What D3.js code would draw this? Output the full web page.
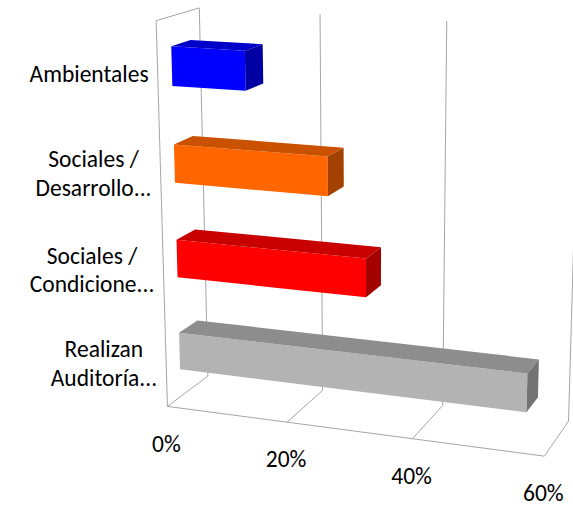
<!DOCTYPE html>
<html>
<head>
<meta charset="utf-8">
<script src="https://cdn.jsdelivr.net/npm/d3@7"></script>
<style>
  html, body { margin: 0; padding: 0; background: #fff; }
  svg { display: block; }
</style>
</head>
<body>
<svg id="chart" width="573" height="507"></svg>
<script>
// ---- data (bottom to top) ----
const categories = ["Realizan\nAuditoría...", "Sociales /\nCondicione...", "Sociales /\nDesarrollo...", "Ambientales"];
const values = [0.56, 0.31, 0.25, 0.12];
const tickValues = [0, 0.2, 0.4, 0.6];
const tickLabels = ["0%", "20%", "40%", "60%"];

// ---- style ----
const barColors = ["#B3B3B3", "#FF0000", "#FF6600", "#0000FF"];
const gridColor = "#A6A6A6";
const fontFamily = "Carlito, Lato, 'Open Sans', sans-serif";
const fontSize = 23.5;

// ---- 3D frame: unit cube (u = value, v = height, w = depth) ----
// image positions of the frame corners used to build the perspective camera
const frameAnchors = [
  [[0, 0, 0], [167.7, 406.7]],
  [[1, 0, 0], [543.5, 456.7]],
  [[0, 1, 0], [154.7, 20.7]],
  [[0, 1, 1], [200.4, 8.0]],
  [[0, 0, 1], [206.5, 376.0]],
  [[1, 0, 1], [568.3, 422.0]],
  [[1, 1, 1], [579.5, 27.0]],
  [[1 / 3, 0, 0], [288.3, 421.7]],
  [[2 / 3, 0, 0], [413.3, 438.3]],
  [[1 / 3, 0, 1], [322.3, 390.0]],
  [[2 / 3, 0, 1], [443.3, 405.0]],
  [[1 / 3, 1, 1], [320.7, 15.0]],
  [[2 / 3, 1, 1], [446.7, 20.7]]
];

// least-squares fit of a 3x4 projective camera
function fitProjection(pairs) {
  const ox = 360, oy = 230, s = 200;
  const n = 11;
  const M = Array.from({ length: n }, () => new Array(n).fill(0));
  const r = new Array(n).fill(0);
  const addRow = (a, b) => {
    for (let i = 0; i < n; i++) {
      r[i] += a[i] * b;
      for (let j = 0; j < n; j++) M[i][j] += a[i] * a[j];
    }
  };
  for (const [[u, v, w], [px, py]] of pairs) {
    const x = (px - ox) / s, y = (py - oy) / s;
    addRow([u, v, w, 1, 0, 0, 0, 0, -x * u, -x * v, -x * w], x);
    addRow([0, 0, 0, 0, u, v, w, 1, -y * u, -y * v, -y * w], y);
  }
  // Gaussian elimination with partial pivoting
  for (let c = 0; c < n; c++) {
    let p = c;
    for (let k = c + 1; k < n; k++) if (Math.abs(M[k][c]) > Math.abs(M[p][c])) p = k;
    [M[c], M[p]] = [M[p], M[c]];
    [r[c], r[p]] = [r[p], r[c]];
    for (let k = c + 1; k < n; k++) {
      const f = M[k][c] / M[c][c];
      for (let j = c; j < n; j++) M[k][j] -= f * M[c][j];
      r[k] -= f * r[c];
    }
  }
  const p = new Array(n).fill(0);
  for (let c = n - 1; c >= 0; c--) {
    let acc = r[c];
    for (let j = c + 1; j < n; j++) acc -= M[c][j] * p[j];
    p[c] = acc / M[c][c];
  }
  return (u, v, w) => {
    const d = p[8] * u + p[9] * v + p[10] * w + 1;
    return [
      ((p[0] * u + p[1] * v + p[2] * w + p[3]) / d) * s + ox,
      ((p[4] * u + p[5] * v + p[6] * w + p[7]) / d) * s + oy
    ];
  };
}
const project = fitProjection(frameAnchors);

// ---- scales ----
const x = d3.scaleLinear().domain([0, 0.6]).range([0, 1]);
const y = d3.scaleBand().domain(categories).range([0, 1]).paddingInner(0.6).paddingOuter(0.3);
const depth = d3.scaleLinear().domain([0, 1]).range([0.32, 0.77]); // bar depth inside the frame

const svg = d3.select("#chart");
svg.append("rect").attr("width", 573).attr("height", 507).attr("fill", "#fff");

const line = d3.line();
const path3d = pts => line(pts.map(p => project(...p)));
const poly = pts => path3d(pts) + "Z";

// ---- walls, floor and gridlines ----
const frame = svg.append("g")
  .attr("fill", "none")
  .attr("stroke", gridColor)
  .attr("stroke-width", 1);

tickValues.forEach(t => {
  const u = x(t);
  frame.append("path").attr("d", path3d([[u, 1, 1], [u, 0, 1], [u, 0, 0]]));
});
frame.append("path").attr("d", path3d([[0, 0, 0], [0, 1, 0], [0, 1, 1]]));
frame.append("path").attr("d", path3d([[0, 0, 0], [1, 0, 0]]));

// ---- 3D bars ----
const shade = (c, k) => {
  const h = d3.rgb(c);
  return d3.rgb(h.r * k, h.g * k, h.b * k).formatHex();
};
const bars = svg.append("g");
categories.slice().reverse().forEach(cat => {
  const i = categories.indexOf(cat);
  const u0 = x(0), u1 = x(values[i]);
  const v0 = y(cat), v1 = v0 + y.bandwidth();
  const w0 = depth(0), w1 = depth(1);
  const g = bars.append("g");
  g.append("path").attr("d", poly([[u0, v0, w0], [u1, v0, w0], [u1, v1, w0], [u0, v1, w0]]))
    .attr("fill", barColors[i]);
  g.append("path").attr("d", poly([[u0, v1, w0], [u1, v1, w0], [u1, v1, w1], [u0, v1, w1]]))
    .attr("fill", shade(barColors[i], 0.79));
  g.append("path").attr("d", poly([[u1, v0, w0], [u1, v1, w0], [u1, v1, w1], [u1, v0, w1]]))
    .attr("fill", shade(barColors[i], 0.64));
});

// ---- value axis labels ----
const tickFmt = d3.format(".0%");
const ticksG = svg.append("g")
  .attr("font-family", fontFamily)
  .attr("font-size", fontSize)
  .attr("fill", "#000")
  .attr("text-anchor", "middle");
tickValues.forEach((t, i) => {
  const [px, py] = project(x(t), 0, 0);
  ticksG.append("text")
    .attr("x", px - 1)
    .attr("y", py + 37)
    .attr("dy", "0.35em")
    .text(tickLabels[i] || tickFmt(t));
});

// ---- category labels ----
const catG = svg.append("g")
  .attr("font-family", fontFamily)
  .attr("font-size", fontSize)
  .attr("fill", "#000")
  .attr("text-anchor", "middle");
const lineHeight = 28.5;
categories.forEach(cat => {
  const lines = cat.split("\n");
  const [ax, ay] = project(0, y(cat) + y.bandwidth() / 2, 0);
  const t = catG.append("text");
  lines.forEach(ln => t.append("tspan").text(ln));
  const widths = [];
  t.selectAll("tspan").each(function () { widths.push(this.getComputedTextLength()); });
  const blockW = d3.max(widths);
  const cx = ax - 9 - blockW / 2;
  const cy = ay + 3;
  t.selectAll("tspan")
    .attr("x", cx)
    .attr("y", (d, k) => cy + (k - (lines.length - 1) / 2) * lineHeight)
    .attr("dy", "0.35em");
});
</script>
</body>
</html>
